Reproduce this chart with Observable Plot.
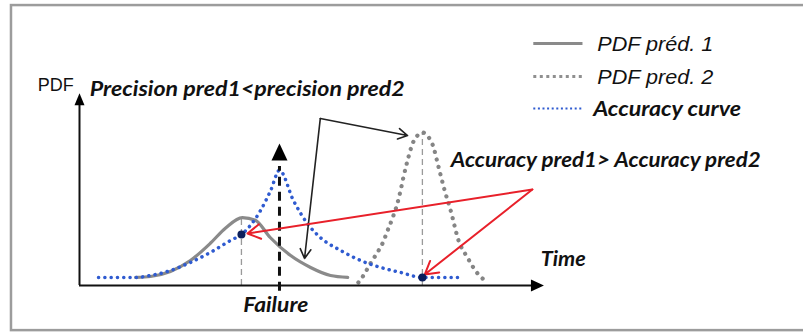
<!DOCTYPE html>
<html>
<head>
<meta charset="utf-8">
<script src="https://cdn.jsdelivr.net/npm/d3@7"></script>
<script src="https://cdn.jsdelivr.net/npm/@observablehq/plot@0.6"></script>
<style>
  html, body { margin: 0; padding: 0; background: #fff; }
  #chart svg { display: block; overflow: visible; }
</style>
</head>
<body>
<div id="chart"></div>
<script>
// ---- Data (time units 0..10, PDF units 0..1) ----
const pred1T = [1.21, 1.53, 1.96, 2.39, 2.82, 3.15, 3.51, 3.79, 4.11, 4.55, 4.98, 5.41, 5.78];
const pred1V = [0.042, 0.047, 0.073, 0.13, 0.22, 0.30, 0.354, 0.34, 0.25, 0.156, 0.094, 0.052, 0.042];

const pred2T = [6.01, 6.12, 6.27, 6.42, 6.53, 6.64, 6.75, 6.85, 6.92, 6.98, 7.07, 7.18, 7.28, 7.39, 7.50, 7.63, 7.72, 7.87, 8.0, 8.17, 8.36, 8.58, 8.71];
const pred2V = [0.016, 0.052, 0.115, 0.172, 0.219, 0.286, 0.354, 0.427, 0.495, 0.5625, 0.651, 0.74, 0.78, 0.797, 0.78, 0.72, 0.635, 0.495, 0.39, 0.234, 0.146, 0.0625, 0.031];

const accT = [0.41, 0.88, 1.21, 1.53, 1.96, 2.39, 2.82, 3.25, 3.49, 3.90, 4.12, 4.31, 4.61, 4.91, 5.19, 5.63, 6.06, 6.49, 6.92, 7.39, 7.78, 8.21];
const accV = [0.042, 0.042, 0.042, 0.052, 0.078, 0.12, 0.172, 0.234, 0.266, 0.39, 0.495, 0.60, 0.443, 0.323, 0.25, 0.182, 0.13, 0.094, 0.068, 0.042, 0.042, 0.042];

const failureT = 4.31;
const peakT = [3.49, 7.39];          // peaks of pred 1 and pred 2
const peakPdf = [0.354, 0.797];
const peakAcc = [0.266, 0.042];      // accuracy at each prediction peak

const legendLabels = ["PDF préd. 1", "PDF pred. 2", "Accuracy curve"];
const texts = {
  pdf: "PDF",
  precision: "Precision pred1<precision pred2",
  accuracy: "Accuracy pred1> Accuracy pred2",
  time: "Time",
  failure: "Failure"
};

// ---- Build tables ----
const pred1 = pred1T.map((t, i) => ({t, v: pred1V[i]}));
const pred2 = pred2T.map((t, i) => ({t, v: pred2V[i]}));
const acc = accT.map((t, i) => ({t, v: accV[i]}));
const peaks = peakT.map((t, i) => ({t, pdf: peakPdf[i], acc: peakAcc[i]}));

const triUp = (w, h) => ({draw(ctx) { ctx.moveTo(0, -h / 2); ctx.lineTo(w / 2, h / 2); ctx.lineTo(-w / 2, h / 2); ctx.closePath(); }});
const triRight = (w, h) => ({draw(ctx) { ctx.moveTo(w / 2, 0); ctx.lineTo(-w / 2, h / 2); ctx.lineTo(-w / 2, -h / 2); ctx.closePath(); }});

const GRAY = "#8a8a8a";
const BLUE = "#2f5bd0";
const RED = "#e8202a";
const one = [{}];
const bi = {fontFamily: "Lato", fontWeight: 700, fontStyle: "italic", fill: "#111"};

const legendRows = legendLabels.map((label, i) => ({label, v: [1.26, 1.089, 0.922][i], tv: [1.221, 1.049, 0.883][i]}));

const chart = Plot.plot({
  width: 803,
  height: 333,
  margin: 0,
  x: {domain: [0, 10], range: [79, 543], axis: null},
  y: {domain: [0, 1], range: [285, 93], axis: null},
  marks: [
    // outer frame
    Plot.rect(one, {x1: () => -1.466, x2: () => 16.5, y1: () => -0.235, y2: () => 1.458, fill: "none", stroke: "#9c9c9c", strokeWidth: 2.5}),
    // dashed guides at the prediction peaks
    Plot.ruleX(peaks, {x: "t", y1: 0, y2: "pdf", stroke: "#9a9a9a", strokeWidth: 1.3, strokeDasharray: "6 4"}),
    // PDF pred 1
    Plot.line(pred1, {x: "t", y: "v", curve: "monotone-x", stroke: GRAY, strokeWidth: 3.2}),
    // PDF pred 2
    Plot.line(pred2, {x: "t", y: "v", curve: "monotone-x", stroke: "#858585", strokeWidth: 4.2, strokeDasharray: "0.1 7.5", strokeLinecap: "round"}),
    // Accuracy curve
    Plot.line(acc, {x: "t", y: "v", curve: "monotone-x", stroke: BLUE, strokeWidth: 3.5, strokeDasharray: "0.1 6.2", strokeLinecap: "round"}),
    // failure dashed line + arrowhead
    Plot.ruleX([failureT], {y1: -0.03, y2: 0.62, stroke: "#111", strokeWidth: 3, strokeDasharray: "9 6"}),
    Plot.dot([failureT], {x: d => d, y: () => 0.695, symbol: triUp(16, 17), fill: "#000", stroke: "none"}),
    // axes
    Plot.ruleX([0], {y1: 0, y2: 0.96, stroke: "#111", strokeWidth: 2}),
    Plot.dot([0], {x: d => d, y: () => 0.97, symbol: triUp(10, 12), fill: "#000", stroke: "none"}),
    Plot.ruleY([0], {x1: 0, x2: 9.8, stroke: "#111", strokeWidth: 2}),
    Plot.dot([0], {x: () => 9.87, y: d => d, symbol: triRight(13, 12), fill: "#000", stroke: "none"}),
    // black arrows
    Plot.arrow(one, {x1: () => 5.19, y1: () => 0.87, x2: () => 7.07, y2: () => 0.781, stroke: "#222", strokeWidth: 1.6, headLength: 10}),
    Plot.arrow(one, {x1: () => 5.19, y1: () => 0.87, x2: () => 4.85, y2: () => 0.141, stroke: "#222", strokeWidth: 1.6, headLength: 10}),
    // red arrows
    Plot.arrow(one, {x1: () => 9.76, y1: () => 0.5, x2: () => 3.62, y2: () => 0.271, stroke: RED, strokeWidth: 2, headLength: 11}),
    Plot.arrow(one, {x1: () => 9.76, y1: () => 0.5, x2: () => 7.44, y2: () => 0.057, stroke: RED, strokeWidth: 2, headLength: 11}),
    // accuracy points at the prediction peaks
    Plot.dot(peaks, {x: "t", y: "acc", r: 4, fill: "#0b1f5c", stroke: "none"}),
    // legend swatches
    Plot.link(legendRows.slice(0, 1), {x1: () => 9.78, x2: () => 10.84, y1: "v", y2: "v", stroke: GRAY, strokeWidth: 3}),
    Plot.link(legendRows.slice(1, 2), {x1: () => 9.78, x2: () => 10.84, y1: "v", y2: "v", stroke: "#8f8f8f", strokeWidth: 3, strokeDasharray: "3 3.5"}),
    Plot.link(legendRows.slice(2, 3), {x1: () => 9.78, x2: () => 10.84, y1: "v", y2: "v", stroke: BLUE, strokeWidth: 2, strokeDasharray: "2 2.6"}),
    Plot.text(legendRows.slice(0, 2), {x: () => 11.16, y: "tv", text: "label", textAnchor: "start", lineAnchor: "bottom", fontFamily: "Liberation Sans", fontStyle: "italic", fontSize: 21, fill: "#111"}),
    Plot.text(legendRows.slice(2), {x: () => 11.07, y: "tv", text: "label", textAnchor: "start", lineAnchor: "bottom", fontSize: 21, ...bi}),
    // labels
    Plot.text([texts.pdf], {x: () => -0.9, y: () => 1.012, text: d => d, textAnchor: "start", lineAnchor: "bottom", fontFamily: "Liberation Sans", fontSize: 18, fill: "#111"}),
    Plot.text([texts.precision], {x: () => 0.22, y: () => 0.985, text: d => d, textAnchor: "start", lineAnchor: "bottom", fontSize: 21, ...bi}),
    Plot.text([texts.accuracy], {x: () => 8.0, y: () => 0.615, text: d => d, textAnchor: "start", lineAnchor: "bottom", fontSize: 21, ...bi}),
    Plot.text([texts.time], {x: () => 9.94, y: () => 0.099, text: d => d, textAnchor: "start", lineAnchor: "bottom", fontSize: 21, ...bi}),
    Plot.text([texts.failure], {x: () => 3.53, y: () => -0.14, text: d => d, textAnchor: "start", lineAnchor: "bottom", fontSize: 21, ...bi})
  ]
});

// fit label widths to the reference
const widths = {
  "Precision pred1<precision pred2": 315,
  "Accuracy pred1> Accuracy pred2": 310,
  "Accuracy curve": 148,
  "PDF préd. 1": 116,
  "PDF pred. 2": 116,
  "Failure": 65,
  "Time": 45,
  "PDF": 36
};
chart.querySelectorAll("text").forEach(el => {
  const w = widths[el.textContent];
  if (w) { el.setAttribute("textLength", w); el.setAttribute("lengthAdjust", "spacingAndGlyphs"); }
});
document.getElementById("chart").appendChild(chart);
</script>
</body>
</html>
